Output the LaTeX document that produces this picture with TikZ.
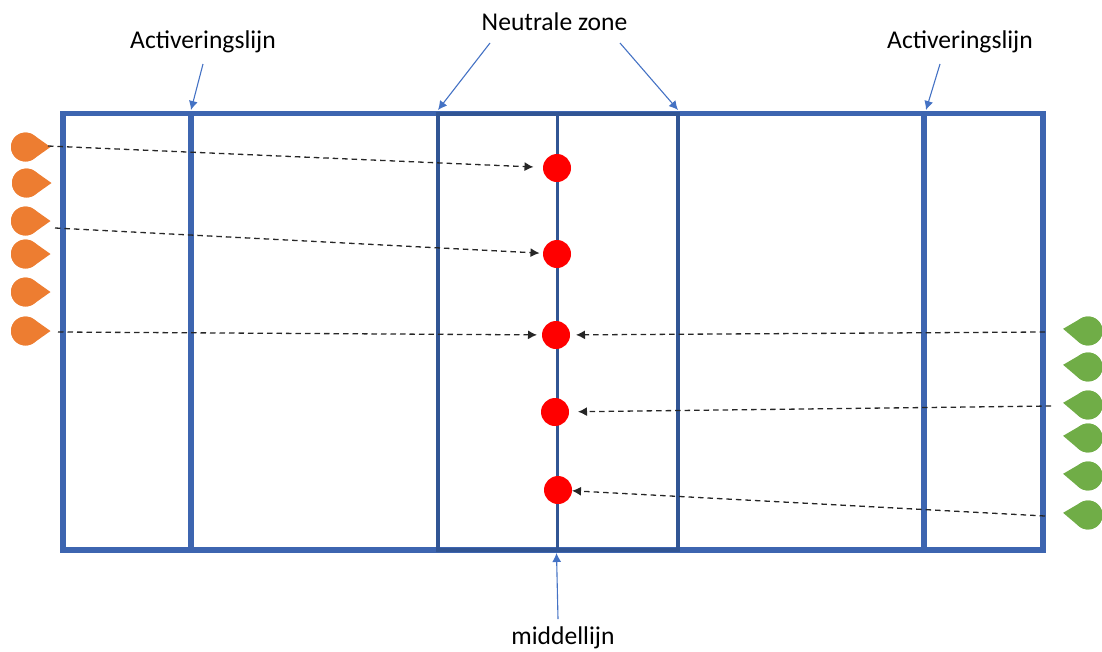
\documentclass[tikz,border=0pt]{standalone}
\usepackage{fontspec}
\setmainfont{Carlito}
\usetikzlibrary{arrows.meta}
\definecolor{frameblue}{HTML}{3D65B0}
\definecolor{darkblue}{HTML}{2F528F}
\definecolor{callblue}{HTML}{4472C4}
\definecolor{dropor}{HTML}{ED7D31}
\definecolor{dropgr}{HTML}{70AD47}
\tikzset{
  x=1pt,y=-1pt,
  frameline/.style={draw=frameblue,line width=5.6pt},
  zoneline/.style={draw=darkblue!85!frameblue,line width=4pt},
  midline/.style={draw=darkblue!85!frameblue,line width=3pt},
  callout/.style={draw=callblue,line width=1.1pt,-{Latex[length=9pt,width=9pt]}},
  flow/.style={draw=black!85,line width=1.3pt,dash pattern=on 5.5pt off 4pt,-{Latex[length=9pt,width=9pt]}},
  reddot/.style={circle,fill=red,minimum size=28pt,inner sep=0pt,outer sep=0pt},
  lbl/.style={font=\fontsize{25.6pt}{28pt}\selectfont,text=black,inner sep=0pt},
  pics/drop/.style={code={\fill[#1] (25,0) -- (50:14.5) arc (50:310:14.5) -- cycle;\fill[#1] (0,0) circle (14.5);}}
}
\begin{document}
\begin{tikzpicture}
\useasboundingbox (0,0) rectangle (1102,651);
% field
\draw[frameline] (63,113.5) rectangle (1043,550);
\draw[frameline] (191,113.5) -- (191,550);
\draw[frameline] (924,113.5) -- (924,550);
\draw[zoneline] (438,113.5) rectangle (677.5,550);
\draw[midline] (557,113.5) -- (557,550);
% tokens
\foreach \n/\xc/\yc in {a/25.5/147,b/26.5/183,c/25.5/221,d/25.5/254,e/25.5/292,f/25.5/331}
  \pic (or\n) at (\xc,\yc) {drop=dropor};
\foreach \n/\xc/\yc in {a/1088/331,b/1088/367,c/1088/405,d/1088/438,e/1088/476,f/1088/515}
  \pic[rotate=175] (gr\n) at (\xc,\yc) {drop=dropgr};
% dots
\node[reddot] (d1) at (557,168) {};
\node[reddot] (d2) at (557,254) {};
\node[reddot] (d3) at (556,335) {};
\node[reddot] (d4) at (555,412) {};
\node[reddot] (d5) at (558,490) {};
% free ends
\coordinate (s1) at (48,146);
\coordinate (s2) at (55,228);
\coordinate (s3) at (58,332);
\coordinate (s4) at (1045,332);
\coordinate (s5) at (1051,406);
\coordinate (s6) at (1045,516);
\draw[flow,shorten >=9.5pt] (s1) -- (d1);
\draw[flow,shorten >=3.5pt] (s2) -- (d2);
\draw[flow,shorten >=5pt] (s3) -- (d3);
\draw[flow,shorten >=6pt] (s4) -- (d3);
\draw[flow,shorten >=9pt] (s5) -- (d4);
\draw[flow,shorten >=0pt] (s6) -- (d5);
% labels
\node[lbl] (l1) at (203,42) {Activeringslijn};
\node[lbl] (l2) at (960,42) {Activeringslijn};
\node[lbl] (l3) at (554.5,22) {Neutrale zone};
\node[lbl] (l4) at (563,638) {middellijn};
\coordinate (t1) at (191,110);
\coordinate (t2) at (926,110);
\coordinate (t3) at (438,110);
\coordinate (t4) at (678,110);
\coordinate (t5) at (556.5,553);
\coordinate (f1) at (203,64);
\coordinate (f2) at (940,64);
\coordinate (f3) at (490,43);
\coordinate (f4) at (620,43);
\coordinate (f5) at (558,619);
\draw[callout] (f1) -- (t1);
\draw[callout] (f2) -- (t2);
\draw[callout] (f3) -- (t3);
\draw[callout] (f4) -- (t4);
\draw[callout] (f5) -- (t5);
\end{tikzpicture}
\end{document}
